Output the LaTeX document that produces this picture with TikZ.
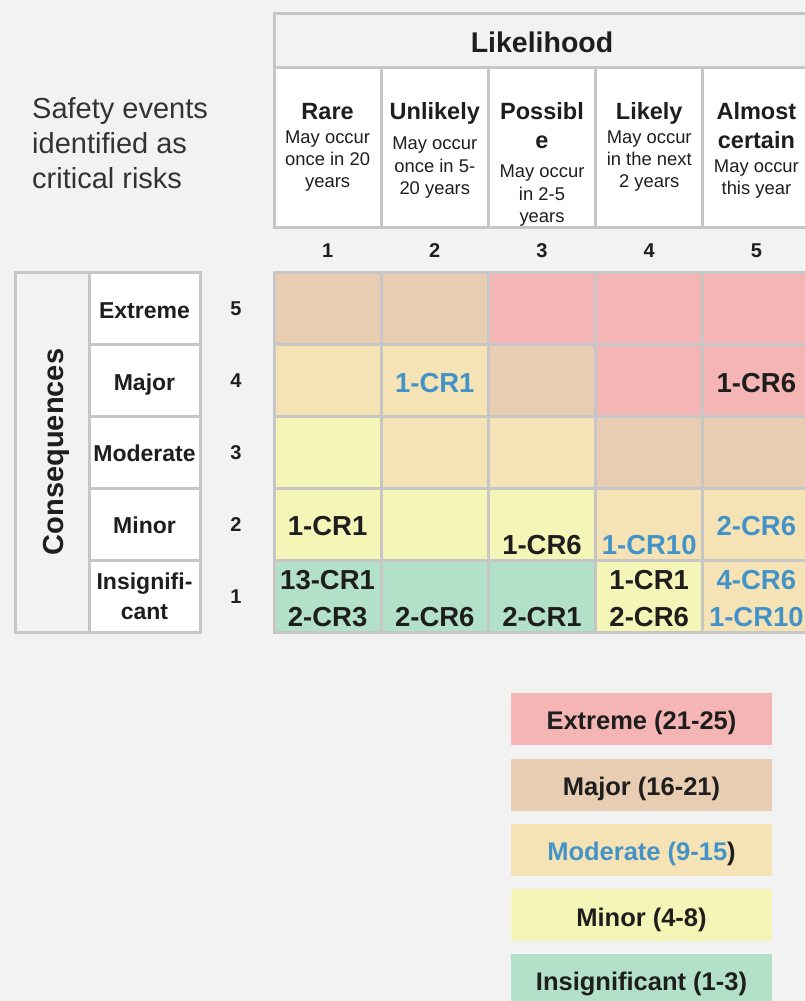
\documentclass[tikz,border=0pt]{standalone}
\usepackage{fontspec}
\setmainfont{Liberation Sans}
\definecolor{bgc}{HTML}{F2F2F2}
\definecolor{gridc}{HTML}{C6C6C6}
\definecolor{ink}{HTML}{1E1E1E}
\definecolor{soft}{HTML}{333333}
\definecolor{ext}{HTML}{F4B5B4}
\definecolor{maj}{HTML}{E8CDB3}
\definecolor{mod}{HTML}{F5E3B5}
\definecolor{mnr}{HTML}{F5F5B7}
\definecolor{ins}{HTML}{B3E0C8}
\definecolor{bluet}{HTML}{4393C8}
\tikzset{
  x=1pt, y=-1pt,
  gridline/.style={draw=gridc, line width=3pt},
  cellbox/.style={gridline, minimum width=107.2pt, minimum height=72pt, inner sep=0pt, outer sep=0pt},
  hdrbox/.style={gridline, fill=white, minimum width=107.2pt, minimum height=160pt, inner sep=0pt, outer sep=0pt},
  rowbox/.style={gridline, fill=white, minimum width=111pt, minimum height=72pt, inner sep=0pt, outer sep=0pt},
  legbox/.style={fill=#1, minimum width=261pt, minimum height=52pt, inner sep=0pt, outer sep=0pt},
  txt/.style={inner sep=0pt, anchor=base, text=ink},
  hd/.style={txt, font=\bfseries\fontsize{23.5}{28}\selectfont},
  ds/.style={txt, font=\fontsize{18.4}{22}\selectfont},
  cr/.style={txt, font=\bfseries\fontsize{27.5}{32}\selectfont},
  crb/.style={cr, text=bluet},
  num/.style={txt, font=\bfseries\fontsize{20}{24}\selectfont},
  rl/.style={txt, font=\bfseries\fontsize{23}{27}\selectfont},
  lg/.style={txt, font=\bfseries\fontsize{25.5}{30}\selectfont},
}
\begin{document}
\begin{tikzpicture}
\useasboundingbox[fill=bgc] (0,0) rectangle (804,1001);

% Likelihood header
\node[gridline, fill=bgc, minimum width=536pt, minimum height=54pt, inner sep=0pt] (lik) at (542,40) {};
\node[txt, font=\bfseries\fontsize{28.5}{34}\selectfont] (likt) at (542,52) {Likelihood};

% description header cells
\foreach \c in {1,...,5} {
  \node[hdrbox] (h\c) at ({274+107.2*(\c-0.5)},147) {};
}
% headings
\node[hd] (h1a) at (327.6,119) {Rare};
\node[hd] (h2a) at (434.8,119) {Unlikely};
\node[hd] (h3a) at (542,119) {Possibl};
\node[hd] (h3b) at (542,148) {e};
\node[hd] (h4a) at (649.2,119) {Likely};
\node[hd] (h5a) at (756.4,119) {Almost};
\node[hd] (h5b) at (756.4,148) {certain};
% descriptions
\node[ds] (d1a) at (327.6,143) {May occur};
\node[ds] (d1b) at (327.6,165) {once in 20};
\node[ds] (d1c) at (327.6,187) {years};
\node[ds] (d2a) at (434.8,149) {May occur};
\node[ds] (d2b) at (434.8,172) {once in 5-};
\node[ds] (d2c) at (434.8,194) {20 years};
\node[ds] (d3a) at (542,177) {May occur};
\node[ds] (d3b) at (542,200) {in 2-5};
\node[ds] (d3c) at (542,222) {years};
\node[ds] (d4a) at (649.2,143) {May occur};
\node[ds] (d4b) at (649.2,165) {in the next};
\node[ds] (d4c) at (649.2,187) {2 years};
\node[ds] (d5a) at (756.4,172) {May occur};
\node[ds] (d5b) at (756.4,194) {this year};

% column numbers
\foreach \c in {1,...,5} {
  \node[num] (cn\c) at ({274+107.2*(\c-0.5)},257) {\c};
}

% left caption
\node[txt, anchor=base west, text=soft, font=\fontsize{29}{35}\selectfont] (cap1) at (32,118) {Safety events};
\node[txt, anchor=base west, text=soft, font=\fontsize{29}{35}\selectfont] (cap2) at (32,153) {identified as};
\node[txt, anchor=base west, text=soft, font=\fontsize{29}{35}\selectfont] (cap3) at (32,188) {critical risks};

% consequences box
\node[gridline, fill=bgc, minimum width=74pt, minimum height=360pt, inner sep=0pt] (cons) at (52,452) {};
\node[txt, rotate=90, font=\bfseries\fontsize{29}{34}\selectfont] (const) at (63,452) {Consequences};

% row label boxes
\foreach \r in {1,...,5} {
  \node[rowbox] (rb\r) at (144.5,{272+72*(5-\r)+36}) {};
  \node[num] (rn\r) at (236,{272+72*(5-\r)+43}) {\r};
}
\node[rl] (rl5) at (144.5,318) {Extreme};
\node[rl] (rl4) at (144.5,390) {Major};
\node[rl] (rl3) at (144.5,461) {Moderate};
\node[rl] (rl2) at (144.5,533) {Minor};
\node[rl] (rl1a) at (144.5,589) {Insignifi-};
\node[rl] (rl1b) at (144.5,619) {cant};

% matrix cells
\foreach \r/\c/\f in {5/1/maj,5/2/maj,5/3/ext,5/4/ext,5/5/ext,
                      4/1/mod,4/2/mod,4/3/maj,4/4/ext,4/5/ext,
                      3/1/mnr,3/2/mod,3/3/mod,3/4/maj,3/5/maj,
                      2/1/mnr,2/2/mnr,2/3/mnr,2/4/mod,2/5/mod,
                      1/1/ins,1/2/ins,1/3/ins,1/4/mnr,1/5/mod} {
  \node[cellbox, fill=\f] (m\r\c) at ({274+107.2*(\c-0.5)},{272+72*(5-\r)+36}) {};
}

% matrix entries
\node[crb] (e42) at (434.8,392) {1-CR1};
\node[cr]  (e45) at (756.4,392) {1-CR6};
\node[cr]  (e21) at (327.6,535) {1-CR1};
\node[cr]  (e23) at (542,554) {1-CR6};
\node[crb] (e24) at (649.2,554) {1-CR10};
\node[crb] (e25) at (756.4,535) {2-CR6};
\node[cr]  (e11a) at (327.6,589) {13-CR1};
\node[cr]  (e11b) at (327.6,626) {2-CR3};
\node[cr]  (e12) at (434.8,626) {2-CR6};
\node[cr]  (e13) at (542,626) {2-CR1};
\node[cr]  (e14a) at (649.2,589) {1-CR1};
\node[cr]  (e14b) at (649.2,626) {2-CR6};
\node[crb] (e15a) at (756.4,589) {4-CR6};
\node[crb] (e15b) at (756.4,626) {1-CR10};

% legend
\node[legbox=ext] (L1) at (641.5,719) {};
\node[legbox=maj] (L2) at (641.5,785) {};
\node[legbox=mod] (L3) at (641.5,850) {};
\node[legbox=mnr] (L4) at (641.5,915) {};
\node[legbox=ins] (L5) at (641.5,980) {};
\node[lg] (L1t) at (641.5,729) {Extreme (21-25)};
\node[lg] (L2t) at (641.5,795) {Major (16-21)};
\node[lg] (L3t) at (641.5,860) {\textcolor{bluet}{Moderate (9-15}\textcolor{ink}{)}};
\node[lg] (L4t) at (641.5,926) {Minor (4-8)};
\node[lg] (L5t) at (641.5,990) {Insignificant (1-3)};
\end{tikzpicture}
\end{document}
